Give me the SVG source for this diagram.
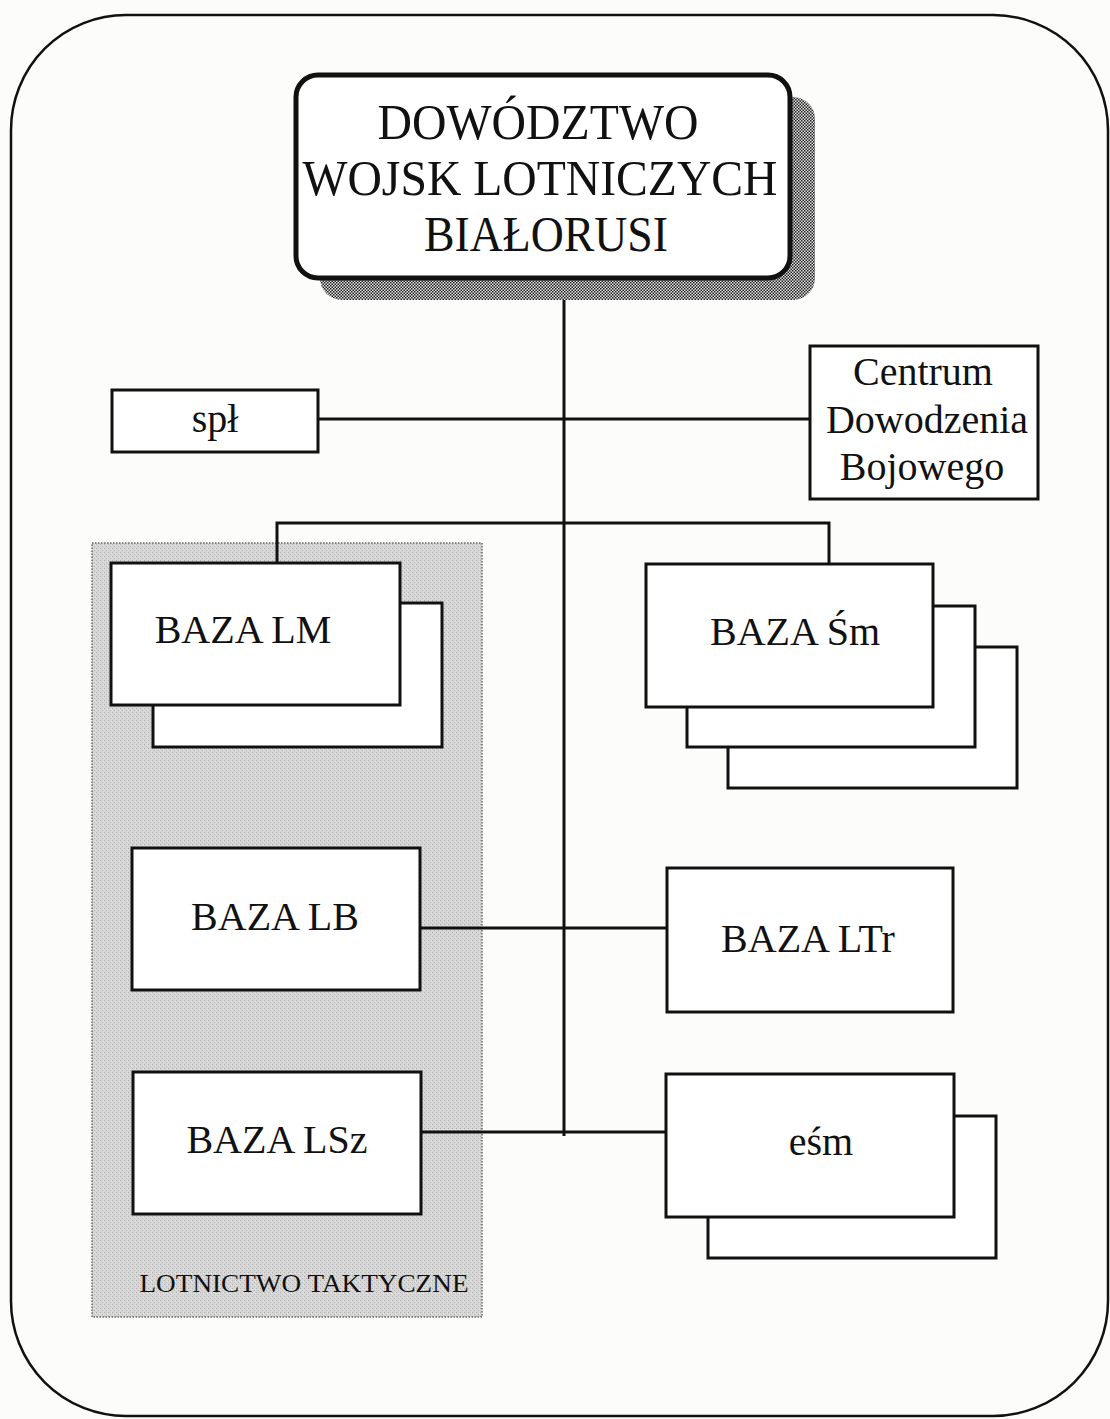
<svg xmlns="http://www.w3.org/2000/svg" width="1110" height="1419" viewBox="0 0 1110 1419">
<style>
text{font-family:"Liberation Serif","Times New Roman",serif;fill:#111;}
.box{fill:#fff;stroke:#111;stroke-width:3;}
.ln{stroke:#111;stroke-width:3;fill:none;}
.lbl{font-size:40px;text-anchor:middle;}
.ttl{font-size:50px;text-anchor:middle;}
</style>
<defs>
<pattern id="chk" width="3" height="3" patternUnits="userSpaceOnUse">
<rect width="3" height="3" fill="#e0e0e0"/>
<rect width="1.5" height="1.5" fill="#222"/>
<rect x="1.5" y="1.5" width="1.5" height="1.5" fill="#222"/>
</pattern>
<pattern id="grain" width="4" height="4" patternUnits="userSpaceOnUse">
<rect width="4" height="4" fill="#d6d6d6"/>
<rect x="0" y="0" width="1" height="1" fill="#b0b0b0"/>
<rect x="2" y="2" width="1" height="1" fill="#b8b8b8"/>
<rect x="3" y="1" width="1" height="1" fill="#e8e8e8"/>
</pattern>
</defs>
<rect width="1110" height="1419" fill="#fcfcfa"/>
<rect x="11" y="15" width="1097" height="1401" rx="115" ry="115" fill="none" stroke="#111" stroke-width="2.5"/>

<g id="group-lotnictwo-taktyczne">
<rect x="92" y="543" width="390" height="774" fill="url(#grain)" stroke="#666" stroke-width="1.5" stroke-dasharray="1.5,1.5"/>
<text x="304" y="1292" font-size="26" text-anchor="middle" textLength="329" lengthAdjust="spacingAndGlyphs">LOTNICTWO TAKTYCZNE</text>
</g>

<g id="connectors">
<line class="ln" x1="564" y1="276" x2="564" y2="1136"/>
<line class="ln" x1="318" y1="419" x2="810" y2="419"/>
<polyline class="ln" points="277,563 277,523 829,523 829,564"/>
<line class="ln" x1="420" y1="928" x2="667" y2="928"/>
<line class="ln" x1="421" y1="1132" x2="666" y2="1132"/>
</g>

<g id="node-dowodztwo">
<rect x="320" y="97" width="495" height="203" rx="22" fill="url(#chk)"/>
<rect x="296" y="75" width="494" height="203" rx="22" fill="#fff" stroke="#111" stroke-width="5"/>
<text class="ttl" x="538" y="139" textLength="321" lengthAdjust="spacingAndGlyphs">DOWÓDZTWO</text>
<text class="ttl" x="540" y="195" textLength="475" lengthAdjust="spacingAndGlyphs">WOJSK LOTNICZYCH</text>
<text class="ttl" x="546" y="251" textLength="244" lengthAdjust="spacingAndGlyphs">BIAŁORUSI</text>
</g>

<g id="node-spl">
<rect class="box" x="112" y="390" width="206" height="62"/>
<text class="lbl" x="215" y="432" font-size="38">spł</text>
</g>

<g id="node-centrum">
<rect class="box" x="810" y="346" width="228" height="153"/>
<text class="lbl" x="923" y="385">Centrum</text>
<text class="lbl" x="927" y="433">Dowodzenia</text>
<text class="lbl" x="922" y="480">Bojowego</text>
</g>

<g id="node-baza-lm">
<rect class="box" x="153" y="603" width="289" height="144"/>
<rect class="box" x="111" y="563" width="289" height="142"/>
<text class="lbl" x="243" y="643">BAZA LM</text>
</g>

<g id="node-baza-sm">
<rect class="box" x="728" y="647" width="289" height="141"/>
<rect class="box" x="687" y="606" width="288" height="141"/>
<rect class="box" x="646" y="564" width="287" height="143"/>
<text class="lbl" x="795" y="645">BAZA Śm</text>
</g>

<g id="node-baza-lb">
<rect class="box" x="132" y="848" width="288" height="142"/>
<text class="lbl" x="275" y="930">BAZA LB</text>
</g>

<g id="node-baza-ltr">
<rect class="box" x="667" y="868" width="286" height="144"/>
<text class="lbl" x="808" y="952">BAZA LTr</text>
</g>

<g id="node-baza-lsz">
<rect class="box" x="133" y="1072" width="288" height="142"/>
<text class="lbl" x="277" y="1153">BAZA LSz</text>
</g>

<g id="node-esm">
<rect class="box" x="708" y="1116" width="288" height="142"/>
<rect class="box" x="666" y="1074" width="288" height="143"/>
<text class="lbl" x="821" y="1155">eśm</text>
</g>
</svg>
